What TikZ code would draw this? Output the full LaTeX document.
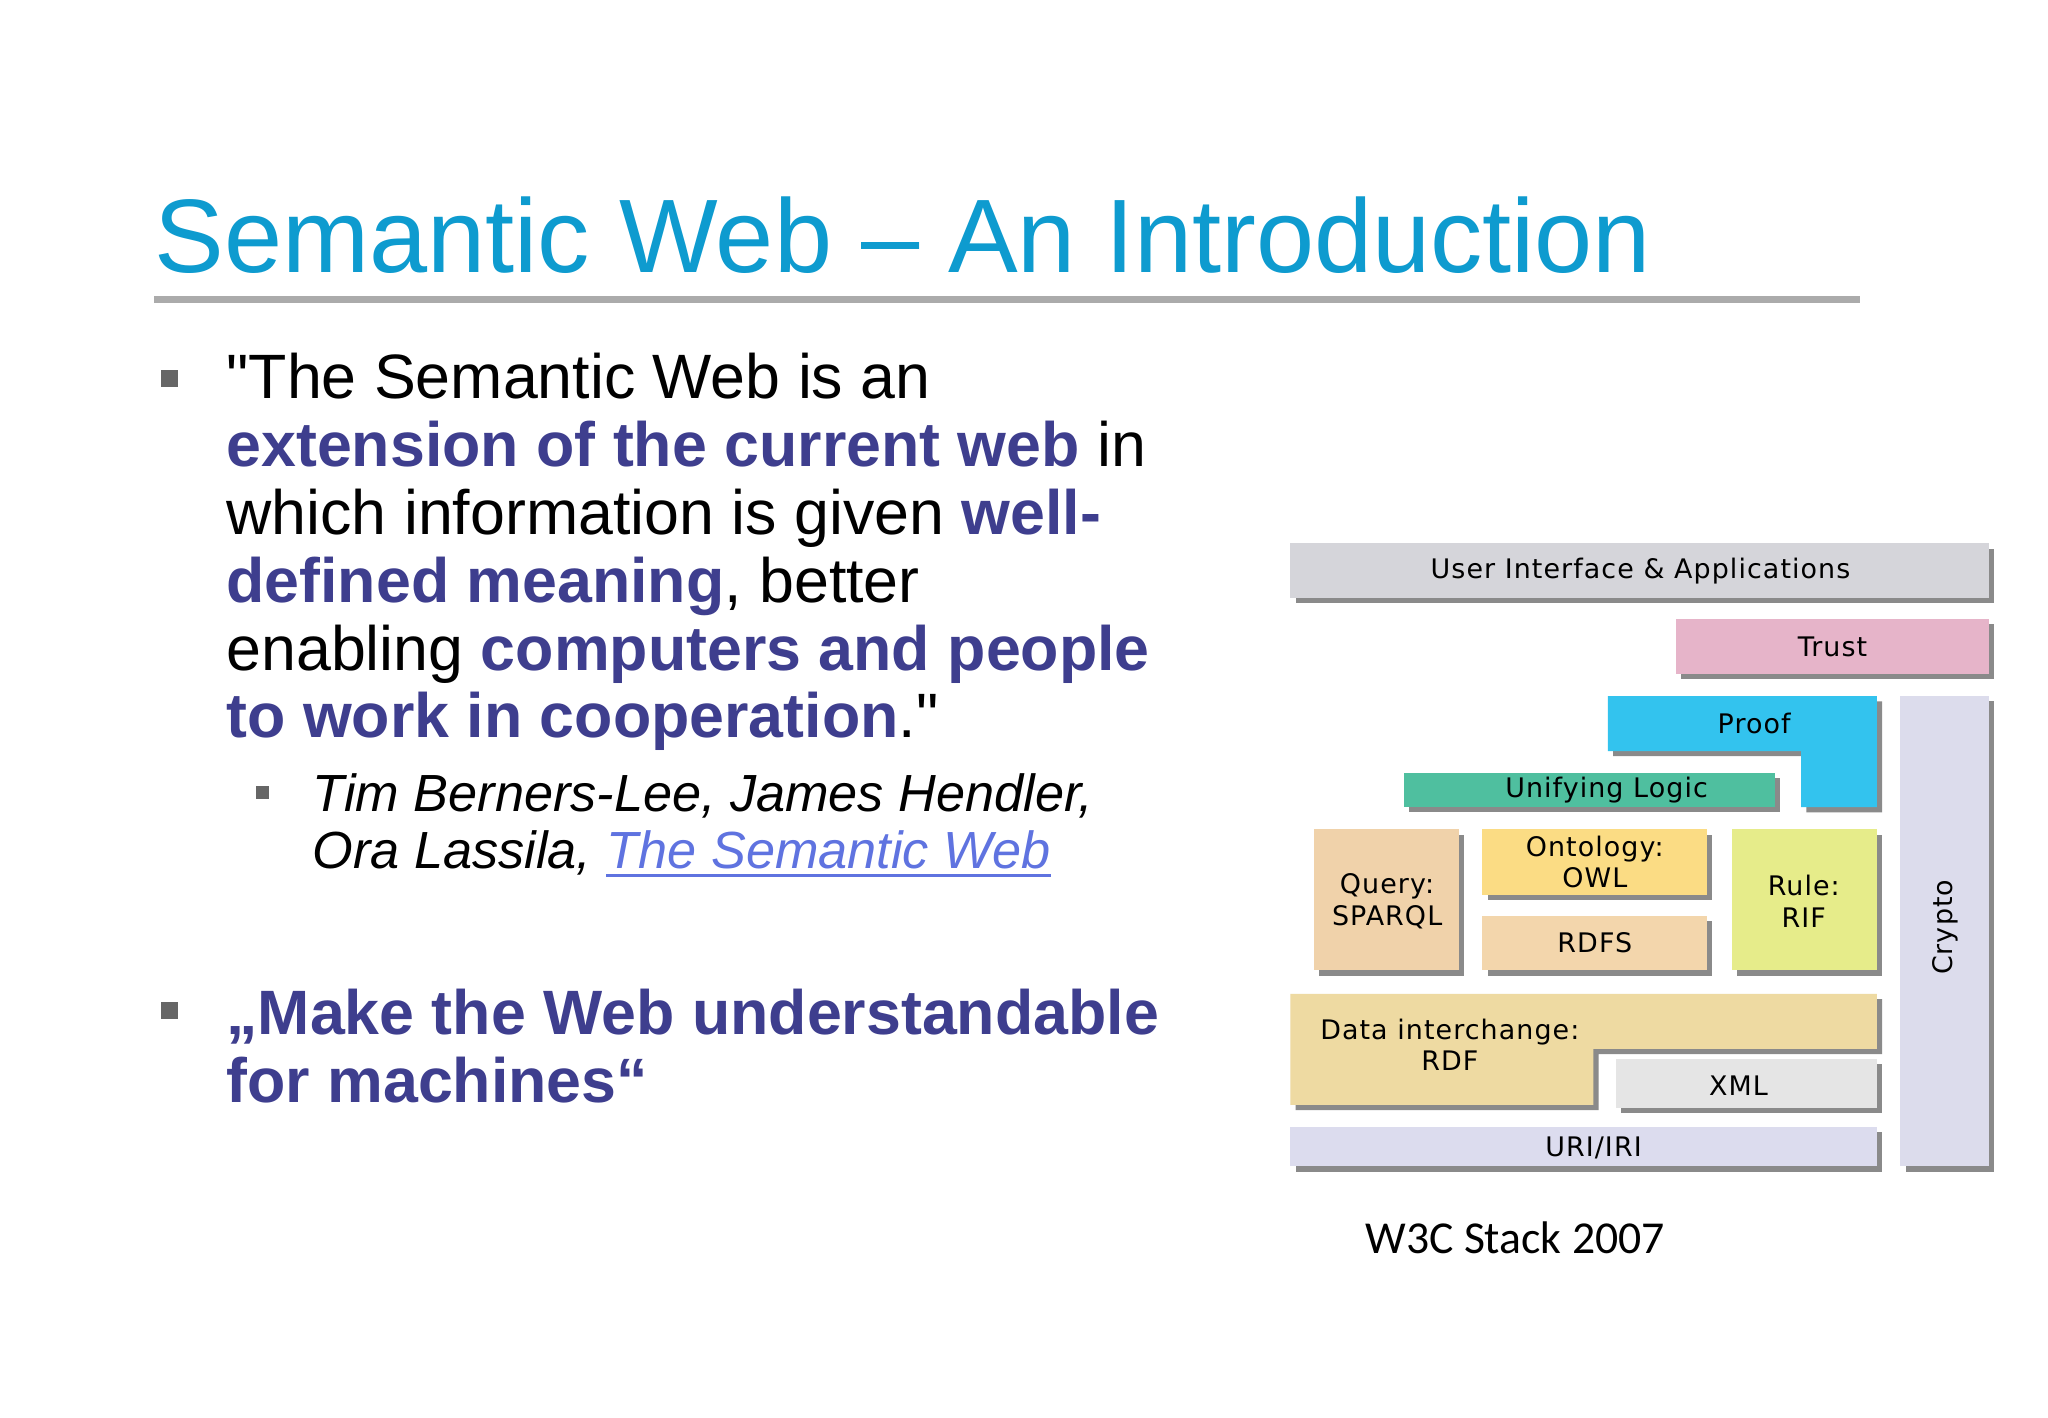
\documentclass[tikz,border=0pt]{standalone}
\usepackage{fontspec}
\setmainfont{Liberation Sans}
\newfontfamily\plainq{Liberation Sans}
\newfontfamily\stackfont[LetterSpace=4]{DejaVu Sans}
\newfontfamily\capfont{Carlito}
\definecolor{titleblue}{HTML}{0E9BCF}
\definecolor{emph}{HTML}{3E3E8E}
\definecolor{linkc}{HTML}{5F73E0}
\definecolor{shad}{HTML}{8A8A8A}
\definecolor{cUI}{HTML}{D5D5DA}
\definecolor{cTrust}{HTML}{E6B4C9}
\definecolor{cProof}{HTML}{33C3EE}
\definecolor{cCrypto}{HTML}{DCDCEC}
\definecolor{cLogic}{HTML}{4FBF9F}
\definecolor{cQuery}{HTML}{F0D2AA}
\definecolor{cOnt}{HTML}{FBDC84}
\definecolor{cRDFS}{HTML}{F3D6AC}
\definecolor{cRule}{HTML}{E6EC8A}
\definecolor{cData}{HTML}{EEDAA2}
\definecolor{cXML}{HTML}{E5E5E5}
\definecolor{cURI}{HTML}{DCDCEE}
\begin{document}
\begin{tikzpicture}[x=0.5pt,y=-0.5pt,
  body/.style={anchor=base west,inner sep=0,font=\fontsize{24}{28}\selectfont},
  sub/.style={anchor=base west,inner sep=0,font=\fontsize{20}{24}\selectfont\itshape},
  stk/.style={font=\stackfont\fontsize{10.3}{12}\selectfont,inner sep=0,align=center}]
\useasboundingbox (0,0) rectangle (1568,1085);
\fill[white] (0,0) rectangle (1568,1085);
% title
\node[anchor=base west,inner sep=0,font=\fontsize{40}{48}\selectfont,text=titleblue] (title) at (118,209) {Semantic Web -- An Introduction};
\fill[black!33] (118,227) rectangle (1424,232);
% bullets
\fill[black!60] (123,283) rectangle (136,296);
\fill[black!60] (123,767) rectangle (136,780);
\fill[black!60] (196,602) rectangle (206,612);
\node[body] (l1) at (173,305) {{\plainq"}The Semantic Web is an};
\node[body] (l2) at (173,357) {\textcolor{emph}{\bfseries extension of the current web} in};
\node[body] (l3) at (173,409) {which information is given \textcolor{emph}{\bfseries well-}};
\node[body] (l4) at (173,461) {\textcolor{emph}{\bfseries defined meaning}, better};
\node[body] (l5) at (173,513) {enabling \textcolor{emph}{\bfseries computers and people}};
\node[body] (l6) at (173,565) {\textcolor{emph}{\bfseries to work in cooperation}.{\plainq"}};
\node[sub] (s1) at (239,621) {Tim Berners-Lee, James Hendler,};
\node[sub] (s2) at (239,665) {Ora Lassila,};
\node[sub,text=linkc] (lk) at ([xshift=5.5pt]s2.base east) {The Semantic Web};
\draw[linkc,line width=1.2pt] ([yshift=-2.5pt]lk.base west) -- ([yshift=-2.5pt]lk.base east);
\node[body,text=emph,font=\fontsize{24}{28}\selectfont\bfseries] (m1) at (173,792) {„Make the Web understandable};
\node[body,text=emph,font=\fontsize{24}{28}\selectfont\bfseries] (m2) at (173,844) {for machines“};
% stack: shadows
\begin{scope}[shift={(4,4)}]
\fill[shad] (988,416) rectangle (1523,458);
\fill[shad] (1283,474) rectangle (1523,516);
\fill[shad] (1231,533) -- (1437,533) -- (1437,618) -- (1379,618) -- (1379,575) -- (1231,575) -- cycle;
\fill[shad] (1455,533) rectangle (1523,893);
\fill[shad] (1075,592) rectangle (1359,618);
\fill[shad] (1006,635) rectangle (1117,743);
\fill[shad] (1135,635) rectangle (1307,685);
\fill[shad] (1135,701) rectangle (1307,743);
\fill[shad] (1326,635) rectangle (1437,743);
\fill[shad] (988,761) -- (1437,761) -- (1437,803) -- (1220,803) -- (1220,846) -- (988,846) -- cycle;
\fill[shad] (1237,811) rectangle (1437,848);
\fill[shad] (988,863) rectangle (1437,893);
\end{scope}
\fill[cUI] (988,416) rectangle (1523,458);
\fill[cTrust] (1283,474) rectangle (1523,516);
\fill[cProof] (1231,533) -- (1437,533) -- (1437,618) -- (1379,618) -- (1379,575) -- (1231,575) -- cycle;
\fill[cCrypto] (1455,533) rectangle (1523,893);
\fill[cLogic] (1075,592) rectangle (1359,618);
\fill[cQuery] (1006,635) rectangle (1117,743);
\fill[cOnt] (1135,635) rectangle (1307,685);
\fill[cRDFS] (1135,701) rectangle (1307,743);
\fill[cRule] (1326,635) rectangle (1437,743);
\fill[cData] (988,761) -- (1437,761) -- (1437,803) -- (1220,803) -- (1220,846) -- (988,846) -- cycle;
\fill[cXML] (1237,811) rectangle (1437,848);
\fill[cURI] (988,863) rectangle (1437,893);
\node[stk] (ui) at (1256,437) {User Interface \& Applications};
\node[stk] (trust) at (1403,495) {Trust};
\node[stk] (proof) at (1343,554) {Proof};
\node[stk,rotate=90] (crypto) at (1489,710) {Crypto};
\node[stk] (logic) at (1230,605) {Unifying Logic};
\node[stk] (query) at (1062,690) {Query:\\SPARQL};
\node[stk] (ont) at (1221,660) {Ontology:\\OWL};
\node[stk] (rdfs) at (1221,722) {RDFS};
\node[stk] (rule) at (1381,690) {Rule:\\RIF};
\node[stk] (data) at (1110,800) {Data interchange:\\RDF};
\node[stk] (xml) at (1331,831) {XML};
\node[stk] (uri) at (1220,879) {URI/IRI};
\node[font=\capfont\fontsize{17.5}{20}\selectfont,inner sep=0] (cap) at (1160,948) {W3C Stack 2007};
\end{tikzpicture}
\end{document}
